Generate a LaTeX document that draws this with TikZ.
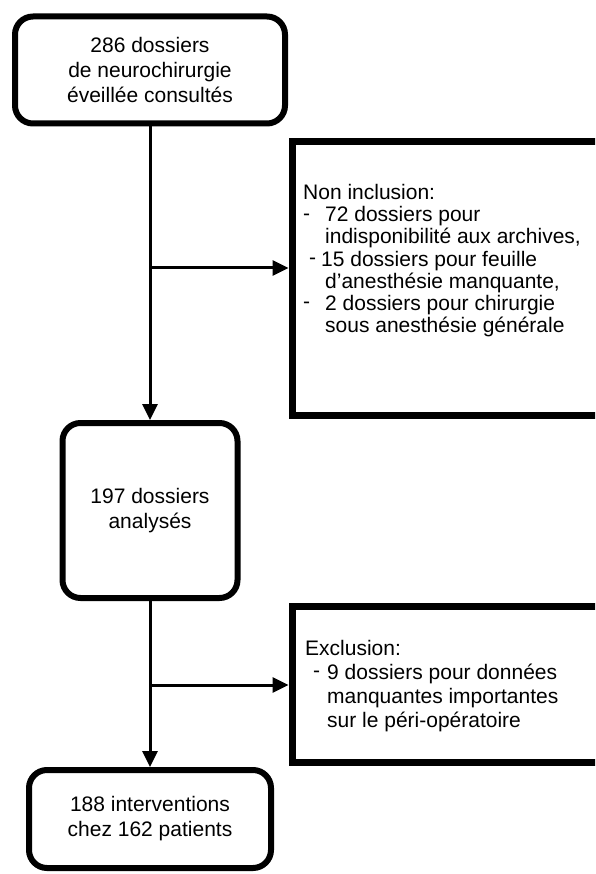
\documentclass[tikz,border=0pt]{standalone}
\usepackage{fontspec}
\setmainfont{Liberation Sans}
\usetikzlibrary{arrows.meta}
\newcommand\dsh{\raisebox{1.5pt}{-}}
\begin{document}
\begin{tikzpicture}[x=1pt,y=-1pt,
  rbox/.style={draw, line width=6pt, rounded corners=18pt, align=center, inner sep=0pt, font=\fontsize{21}{25}\selectfont},
  sbox/.style={draw, line width=7pt, inner sep=0pt},
  txt/.style={align=left, inner sep=0pt, anchor=north west},
  arr/.style={line width=3pt, -{Triangle[length=16pt,width=15pt]}}]
\useasboundingbox (0,0) rectangle (595,874);
\clip (0,0) rectangle (595,874);
\fill[white] (0,0) rectangle (595,874);
\node[rbox, minimum width=270pt, minimum height=107pt] (b1) at (150,70) {286 dossiers\\de neurochirurgie\\éveillée consultés};
\node[rbox, minimum width=175pt, minimum height=175pt] (b2) at (150,510.5) {197 dossiers\\analysés};
\node[rbox, minimum width=242pt, minimum height=98pt] (b3) at (150,819) {188 interventions\\chez 162 patients};
\node[sbox, minimum width=330pt, minimum height=273pt] (r1) at (457,278.5) {};
\node[sbox, minimum width=330pt, minimum height=156pt] (r2) at (457,684) {};
\node[txt, font=\fontsize{21}{22.2}\selectfont] (t1) at (303,184) {Non inclusion:\\
\dsh\hspace{15pt}72 dossiers pour\\
\hspace*{22pt}indisponibilité aux archives,\\
\hspace*{6pt}\dsh\hspace{5pt}15 dossiers pour feuille\\
\hspace*{22pt}d’anesthésie manquante,\\
\dsh\hspace{15pt}2 dossiers pour chirurgie\\
\hspace*{22pt}sous anesthésie générale};
\node[txt, font=\fontsize{21}{24}\selectfont] (t2) at (305,640) {Exclusion:\\
\hspace*{8pt}\dsh\hspace{7pt}9 dossiers pour données\\
\hspace*{22pt}manquantes importantes\\
\hspace*{22pt}sur le péri-opératoire};
\coordinate (j1) at (150,268);
\coordinate (j2) at (150,685);
\draw[arr] (b1.south) -- (b2.north);
\draw[arr] (b2.south) -- (b3.north);
\draw[arr] (j1) -- (j1 -| r1.west);
\draw[arr] (j2) -- (j2 -| r2.west);
\end{tikzpicture}
\end{document}
